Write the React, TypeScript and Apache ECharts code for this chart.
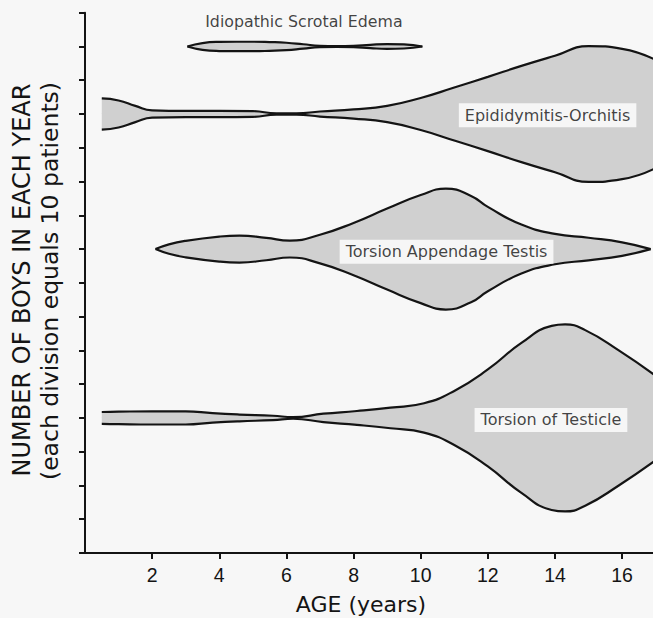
import React, { useEffect, useRef } from "react";
import * as echarts from "echarts";

// Ages (years) and number of boys (full width of each shape, in patients)
const edemaAges = [3.05, 3.5, 4, 4.5, 5, 5.5, 6, 6.5, 7, 7.5, 8, 8.5, 9, 9.5, 10.05];
const edemaCounts = [0, 2.0, 2.7, 2.8, 2.8, 2.6, 2.2, 1.3, 0.4, 0.2, 0.4, 1.0, 1.4, 1.2, 0];

const epididymitisAges = [0.5, 1, 1.5, 2, 3, 4, 5, 5.7, 6.3, 7, 8, 9, 10, 11, 12, 13, 14, 15, 16, 17];
const epididymitisCounts = [9.2, 8.0, 4.8, 2.2, 1.9, 1.9, 1.7, 0.4, 0.4, 1.5, 2.7, 4.8, 9.5, 15.7, 22, 28.5, 34.5, 40.2, 38.6, 32];

const appendageAges = [2.1, 2.5, 3, 4, 4.6, 5.4, 6.1, 7, 8, 9, 10, 10.75, 11.5, 12, 13, 14, 15, 16, 16.85];
const appendageCounts = [0, 2.8, 4.9, 7.4, 8.0, 6.6, 5.0, 8.5, 15.5, 24, 32, 35.8, 31.5, 25, 14.5, 9, 6.7, 4, 0];

const torsionAges = [0.5, 1, 2, 3, 3.8, 4.6, 5.6, 6.2, 7.1, 8.1, 9.1, 10.1, 11, 12, 13, 13.9, 14.3, 14.9, 15.9, 17];
const torsionCounts = [3.5, 3.7, 3.9, 3.9, 2.8, 2.0, 1.3, 0.5, 2.5, 4.1, 6.1, 8.7, 16, 28.7, 44.4, 54.5, 55.4, 52, 40, 25];

const conditionNames = ["Idiopathic Scrotal Edema", "Epididymitis-Orchitis", "Torsion Appendage Testis", "Torsion of Testicle"];
const conditionCenters = [150, 130, 90, 40];

const labelAges = [6.52, 13.78, 10.77, 13.88];
const labelValues = [157.3, 129.6, 89.2, 39.4];

const xTicks = [2, 4, 6, 8, 10, 12, 14, 16];

const INK = "#141414";
const FILL = "#d0d0d0";

function buildShape(name: string, ages: number[], counts: number[], center: number) {
  const upper = ages.map((a, i) => [a, center + counts[i] / 2]);
  const lower = ages.map((a, i) => [a, center - counts[i] / 2]);
  const common = {
    type: "line",
    smooth: 0.5,
    symbol: "none",
    silent: true,
    clip: true,
    lineStyle: { color: INK, width: 2.2 },
  };
  return [
    { ...common, name: name + " (upper)", data: upper, areaStyle: { color: FILL, opacity: 1, origin: center }, z: 2 },
    { ...common, name: name + " (lower)", data: lower, areaStyle: { color: FILL, opacity: 1, origin: center + 0.15 }, z: 2 },
  ];
}

export default function App() {
  const ref = useRef<HTMLDivElement>(null);
  useEffect(() => {
    if (!ref.current) return;
    const chart = echarts.init(ref.current, undefined, { renderer: "svg" });
    const allAges = [edemaAges, epididymitisAges, appendageAges, torsionAges];
    const allCounts = [edemaCounts, epididymitisCounts, appendageCounts, torsionCounts];
    const series: any[] = [];
    conditionNames.forEach((n, i) => {
      series.push(...buildShape(n, allAges[i], allCounts[i], conditionCenters[i]));
    });
    series.push({
      type: "scatter",
      name: "labels",
      symbolSize: 1,
      silent: true,
      itemStyle: { color: "rgba(0,0,0,0)" },
      z: 10,
      data: conditionNames.map((n, i) => ({
        value: [labelAges[i], labelValues[i], n],
        label:
          i === 0
            ? { backgroundColor: "transparent", fontSize: 15.8, padding: 0 }
            : {},
      })),
      label: {
        show: true,
        position: "inside",
        formatter: (p: any) => p.data.value[2],
        color: "#111111",
        fontFamily: "DejaVu Sans",
        fontSize: 16,
        backgroundColor: "#ffffff",
        padding: [4, 6],
      },
    });

    chart.setOption({
      animation: false,
      backgroundColor: "#f7f7f7",
      grid: { left: 85, right: 0, top: 12.7, bottom: 65, containLabel: false },
      xAxis: {
        type: "value",
        min: 0,
        max: 16.92,
        interval: 2,
        axisLine: { show: true, onZero: false, lineStyle: { color: INK, width: 2 } },
        axisTick: { show: true, inside: false, length: 6, lineStyle: { color: INK, width: 2 } },
        axisLabel: {
          show: true,
          margin: 12,
          fontSize: 19.5,
          fontFamily: "Liberation Sans",
          color: INK,
          showMinLabel: false,
          showMaxLabel: false,
          formatter: (v: number) => (xTicks.indexOf(v) >= 0 ? String(v) : ""),
        },
        splitLine: { show: false },
      },
      yAxis: {
        type: "value",
        min: 0,
        max: 160,
        interval: 10,
        axisLine: { show: true, onZero: false, lineStyle: { color: INK, width: 2 } },
        axisTick: { show: true, inside: false, length: 6, lineStyle: { color: INK, width: 2 } },
        axisLabel: { show: false },
        splitLine: { show: false },
      },
      graphic: [
        {
          type: "text",
          x: 22,
          y: 280,
          rotation: Math.PI / 2,
          style: {
            text: "NUMBER OF BOYS IN EACH YEAR",
            fontFamily: "DejaVu Sans",
            fontSize: 24,
            fill: INK,
            align: "center",
            verticalAlign: "middle",
          },
        },
        {
          type: "text",
          x: 50,
          y: 281,
          rotation: Math.PI / 2,
          style: {
            text: "(each division equals 10 patients)",
            fontFamily: "DejaVu Sans",
            fontSize: 23.5,
            fill: INK,
            align: "center",
            verticalAlign: "middle",
          },
        },
        {
          type: "text",
          x: 361,
          y: 604,
          style: {
            text: "AGE (years)",
            fontFamily: "DejaVu Sans",
            fontSize: 22,
            fill: INK,
            align: "center",
            verticalAlign: "middle",
          },
        },
      ],
      series,
    });
    return () => chart.dispose();
  }, []);
  return <div ref={ref} style={{ position: "fixed", left: 0, top: 0, width: 653, height: 618 }} />;
}
